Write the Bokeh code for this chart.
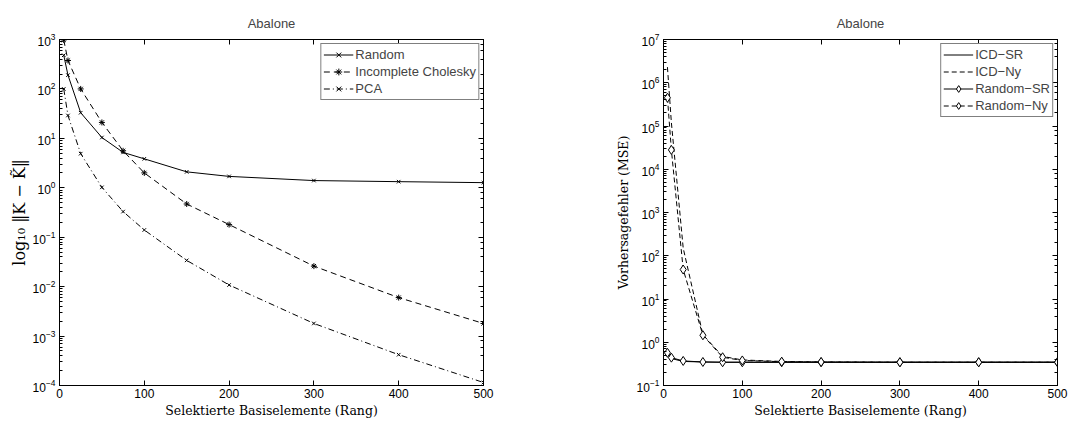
from bokeh.plotting import figure
from bokeh.models import (LogAxis, LinearAxis, Legend, LegendItem, FixedTicker,
                          CustomJSTickFormatter, LogTicker)
from bokeh.layouts import row
from bokeh.embed import file_html
from bokeh.resources import INLINE

# ---------------- data ----------------
rank = [5, 10, 25, 50, 75, 100, 150, 200, 300, 400, 500]

random_err = [480, 190, 33, 10.4, 5.2, 3.85, 2.1, 1.7, 1.4, 1.33, 1.27]
cholesky_err = [980, 376, 100, 21, 5.6, 2.0, 0.47, 0.18, 0.026, 0.006, 0.0018]
pca_err = [100, 29, 4.9, 1.02, 0.33, 0.14, 0.034, 0.0108, 0.0018, 0.00042, 0.000115]

icd_sr = [0.52, 0.42, 0.36, 0.35, 0.345, 0.345, 0.345, 0.345, 0.345, 0.345, 0.345]
icd_ny = [2.3e6, 1.2e5, 150, 1.5, 0.47, 0.39, 0.36, 0.35, 0.345, 0.345, 0.345]
rand_sr = [0.57, 0.44, 0.37, 0.35, 0.345, 0.345, 0.345, 0.345, 0.345, 0.345, 0.345]
rand_ny = [4.5e5, 2.8e4, 48, 1.45, 0.45, 0.38, 0.355, 0.35, 0.345, 0.345, 0.345]

x_ticks = [0, 100, 200, 300, 400, 500]

SANS = "Liberation Sans"
SERIF = "DejaVu Serif"

blank = CustomJSTickFormatter(code="return ''")


def style_axis(ax, minor=True):
    ax.axis_line_color = "black"
    ax.axis_line_width = 1
    ax.major_tick_in = 5
    ax.major_tick_out = 0
    ax.major_tick_line_color = "black"
    if minor:
        ax.minor_tick_in = 3
        ax.minor_tick_out = 0
        ax.minor_tick_line_color = "black"
    else:
        ax.minor_tick_line_color = None
    ax.major_label_text_font = SANS
    ax.major_label_text_font_size = "12px"
    ax.major_label_text_color = "black"
    ax.axis_label_text_font = SERIF
    ax.axis_label_text_font_size = "12.5px"
    ax.axis_label_text_font_style = "normal"
    ax.axis_label_text_color = "black"


def make_fig(width_left, fw, ymin, ymax, ylabel, ylabel_size, ylabel_standoff, border_right):
    p = figure(frame_width=fw, frame_height=346,
               x_range=(0, 500), y_range=(ymin, ymax), y_axis_type="log",
               output_backend="svg", toolbar_location=None,
               min_border_left=width_left, min_border_right=border_right,
               min_border_top=39, min_border_bottom=36)
    p.grid.visible = False
    p.outline_line_color = "black"
    p.title.text = "Abalone"
    p.title.align = "center"
    p.title.text_font = SANS
    p.title.text_font_size = "13px"
    p.title.text_font_style = "normal"
    p.title.offset = 0
    p.title.standoff = 18
    p.xaxis.ticker = FixedTicker(ticks=x_ticks)
    for ax in p.xaxis:
        style_axis(ax, minor=False)
        ax.major_label_standoff = 3
        ax.axis_label_standoff = 2
    for ax in p.yaxis:
        style_axis(ax, minor=True)
        ax.major_label_standoff = 4
        ax.axis_label_standoff = ylabel_standoff
        ax.axis_label_text_font_size = ylabel_size
    p.xaxis.axis_label = "Selektierte Basiselemente (Rang)"
    p.yaxis.axis_label = ylabel
    top = LinearAxis(ticker=FixedTicker(ticks=x_ticks), formatter=blank)
    style_axis(top, minor=False)
    top.major_label_standoff = 0
    p.add_layout(top, "above")
    right = LogAxis(ticker=LogTicker(), formatter=blank)
    style_axis(right, minor=True)
    right.major_label_standoff = 0
    p.add_layout(right, "right")
    return p


# ---------------- left ----------------
p1 = make_fig(59, 424, 1e-4, 1e3, "log₁₀ ‖K − K̃‖", "16px", 1, 12)

r1 = p1.line(rank, random_err, line_color="black", line_width=1)
m1 = p1.scatter(rank, random_err, marker="x", size=5, line_color="black")
r2 = p1.line(rank, cholesky_err, line_color="black", line_width=1, line_dash="6 4")
m2 = p1.scatter(rank, cholesky_err, marker="asterisk", size=6, line_color="black")
r3 = p1.line(rank, pca_err, line_color="black", line_width=1, line_dash="6 3 1 3")
m3 = p1.scatter(rank, pca_err, marker="x", size=5, line_color="black")

leg1 = Legend(items=[LegendItem(label="Random", renderers=[r1, m1]),
                     LegendItem(label="Incomplete Cholesky", renderers=[r2, m2]),
                     LegendItem(label="PCA", renderers=[r3, m3])],
              location="top_right")

# ---------------- right ----------------
p2 = make_fig(168, 394, 1e-1, 1e7, "Vorhersagefehler (MSE)", "12.5px", 3, 20)

s1 = p2.line(rank, icd_sr, line_color="black", line_width=1)
s2 = p2.line(rank, icd_ny, line_color="black", line_width=1, line_dash="5 3")
s3 = p2.line(rank, rand_sr, line_color="black", line_width=1)
d3 = p2.scatter(rank, rand_sr, marker="diamond", size=9, line_color="black", fill_color="white")
s4 = p2.line(rank, rand_ny, line_color="black", line_width=1, line_dash="5 3")
d4 = p2.scatter(rank, rand_ny, marker="diamond", size=9, line_color="black", fill_color="white")

leg2 = Legend(items=[LegendItem(label="ICD−SR", renderers=[s1]),
                     LegendItem(label="ICD−Ny", renderers=[s2]),
                     LegendItem(label="Random−SR", renderers=[s3, d3]),
                     LegendItem(label="Random−Ny", renderers=[s4, d4])],
              location="top_right")

for leg in (leg1, leg2):
    leg.border_line_color = "black"
    leg.border_line_width = 1
    leg.background_fill_alpha = 1
    leg.label_text_font = SANS
    leg.label_text_font_size = "13px"
    leg.label_standoff = 2
    leg.glyph_width = 30
    leg.glyph_height = 17
    leg.label_height = 17
    leg.spacing = 0
    leg.padding = 2
    leg.margin = 4
p1.add_layout(leg1)
p2.add_layout(leg2)

layout = row(p1, p2)
open("out.html", "w").write(file_html(layout, INLINE))
